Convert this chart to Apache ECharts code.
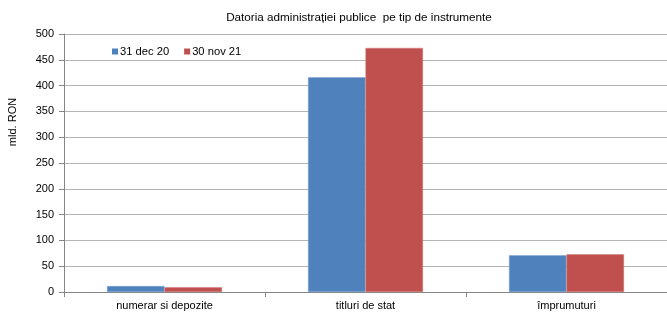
<!DOCTYPE html>
<html>
<head>
<meta charset="utf-8">
<script src="https://cdn.jsdelivr.net/npm/echarts@6/dist/echarts.min.js"></script>
<style>
  html, body { margin: 0; padding: 0; background: #fff; }
  #chart { width: 667px; height: 317px; }
</style>
</head>
<body>
<div id="chart"></div>
<script>
  // categorii si valori (mld. RON)
  const categories = ['numerar si depozite', 'titluri de stat', 'împrumuturi']
  const dec20 = [11.5, 416, 71]
  const nov21 = [9, 473, 73]
  const seriesNames = ['31 dec 20', '30 nov 21']

  const font = 'Liberation Sans, Arial, sans-serif'
  const chart = echarts.init(document.getElementById('chart'))
  const option = {
    animation: false,
    textStyle: { fontFamily: font },
    title: {
      text: 'Datoria administrației publice  pe tip de instrumente',
      left: 354,
      textAlign: 'center',
      top: 7,
      textStyle: { fontSize: 11.7, fontWeight: 'normal', color: '#000', fontFamily: font }
    },
    legend: {
      data: seriesNames,
      left: 107,
      top: 41,
      itemWidth: 6,
      itemHeight: 6,
      itemGap: 15,
      icon: 'rect',
      itemStyle: { borderWidth: 0 },
      textStyle: { fontSize: 11.2, color: '#000', padding: [0, 0, 0, -3] }
    },
    // titlul axei verticale (citit de jos in sus)
    graphic: [{
      type: 'text',
      x: 13,
      y: 122,
      rotation: Math.PI / 2,
      style: {
        text: 'mld. RON',
        font: '11px ' + font,
        fill: '#000',
        align: 'center',
        verticalAlign: 'middle'
      }
    }],
    grid: { left: 64, right: -1, top: 34, bottom: 25 },
    xAxis: {
      type: 'category',
      data: categories,
      axisLine: { lineStyle: { color: '#868686' } },
      axisTick: { show: true, alignWithLabel: false, length: 5, lineStyle: { color: '#868686' } },
      axisLabel: { fontSize: 11, color: '#000', margin: 8 }
    },
    yAxis: {
      type: 'value',
      min: 0,
      max: 500,
      interval: 50,
      axisLine: { show: true, lineStyle: { color: '#868686' } },
      axisTick: { show: true, length: 5, lineStyle: { color: '#868686' } },
      axisLabel: { fontSize: 11, color: '#000', margin: 10 },
      splitLine: { lineStyle: { color: '#b3b3b3', width: 1 } }
    },
    series: [
      {
        name: seriesNames[0],
        type: 'bar',
        data: dec20,
        barWidth: '28.6%',
        barGap: '0%',
        itemStyle: { color: '#4f81bd', borderColor: '#7fa3d0', borderWidth: 0.5 }
      },
      {
        name: seriesNames[1],
        type: 'bar',
        data: nov21,
        barWidth: '28.6%',
        itemStyle: { color: '#c0504d', borderColor: '#cf7a78', borderWidth: 0.5 }
      }
    ]
  }
  chart.setOption(option)
</script>
</body>
</html>
